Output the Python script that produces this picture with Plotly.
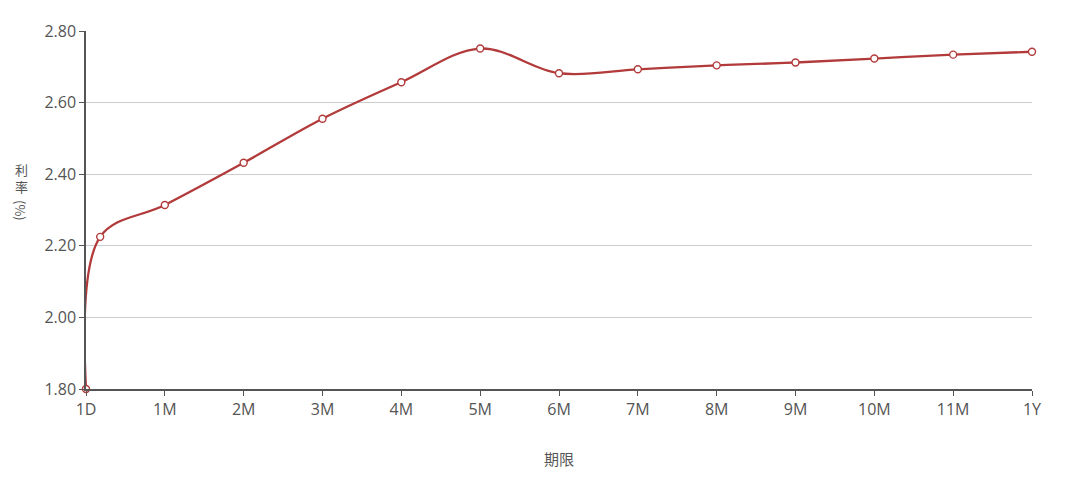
import plotly.graph_objects as go

# Term positions (in months) and labels
term_months = [0, 0.18, 1, 2, 3, 4, 5, 6, 7, 8, 9, 10, 11, 12]
term_labels = ["1D", "1W", "1M", "2M", "3M", "4M", "5M", "6M", "7M", "8M", "9M", "10M", "11M", "1Y"]
rates = [1.80, 2.225, 2.314, 2.432, 2.555, 2.657, 2.751, 2.682, 2.693, 2.704, 2.712, 2.723, 2.734, 2.742]

tick_vals = [0, 1, 2, 3, 4, 5, 6, 7, 8, 9, 10, 11, 12]
tick_text = ["1D", "1M", "2M", "3M", "4M", "5M", "6M", "7M", "8M", "9M", "10M", "11M", "1Y"]
y_ticks = [1.80, 2.00, 2.20, 2.40, 2.60, 2.80]

NUM_FONT = "Open Sans"
CJK_FONT = "Noto Sans CJK SC"
LINE = "#b23a3a"
TXT = "#555555"

fig = go.Figure()
fig.add_trace(go.Scatter(
    x=term_months, y=rates, text=term_labels,
    mode="lines+markers",
    line=dict(color=LINE, width=2.3, shape="spline", smoothing=1),
    marker=dict(size=7, color="white", line=dict(color=LINE, width=1.4)),
    hovertemplate="%{text}: %{y:.3f}<extra></extra>",
    cliponaxis=False,
))

# page body adds an 8px offset; compensate so plot area sits at x 86-1032, y 25-389
fig.update_layout(
    width=1072, height=469,
    margin=dict(l=78, r=48, t=17, b=88),
    paper_bgcolor="white", plot_bgcolor="white",
    font=dict(family=NUM_FONT, size=16, color=TXT),
    showlegend=False,
    xaxis=dict(
        range=[0, 12], tickmode="array", tickvals=tick_vals, ticktext=tick_text,
        showgrid=False, zeroline=False,
        showline=True, linecolor="#555555", linewidth=1.5,
        ticks="outside", ticklen=5, tickcolor="#555555",
        tickfont=dict(family=NUM_FONT, size=16, color=TXT),
    ),
    yaxis=dict(
        range=[1.80, 2.80], tickmode="array", tickvals=y_ticks,
        tickformat=".2f",
        showgrid=True, gridcolor="#cccccc", gridwidth=1, zeroline=False,
        showline=True, linecolor="#555555", linewidth=1.5,
        ticks="outside", ticklen=5, tickcolor="#555555",
        tickfont=dict(family=NUM_FONT, size=16, color=TXT),
    ),
    annotations=[
        dict(text="期限", xref="paper", yref="paper", x=0.5, y=0,
             yshift=-69, showarrow=False, font=dict(family=CJK_FONT, size=15, color=TXT),
             xanchor="center", yanchor="middle"),
        dict(text="利<br>率", xref="paper", yref="paper", x=0, y=0.5,
             xshift=-65, yshift=32, showarrow=False, align="center",
             font=dict(family=CJK_FONT, size=13, color=TXT),
             xanchor="center", yanchor="middle"),
        dict(text="(%)", xref="paper", yref="paper", x=0, y=0.5,
             xshift=-65, yshift=0, showarrow=False, textangle=90,
             font=dict(family=CJK_FONT, size=13, color=TXT),
             xanchor="center", yanchor="middle"),
    ],
)

fig.write_html("out.html")
